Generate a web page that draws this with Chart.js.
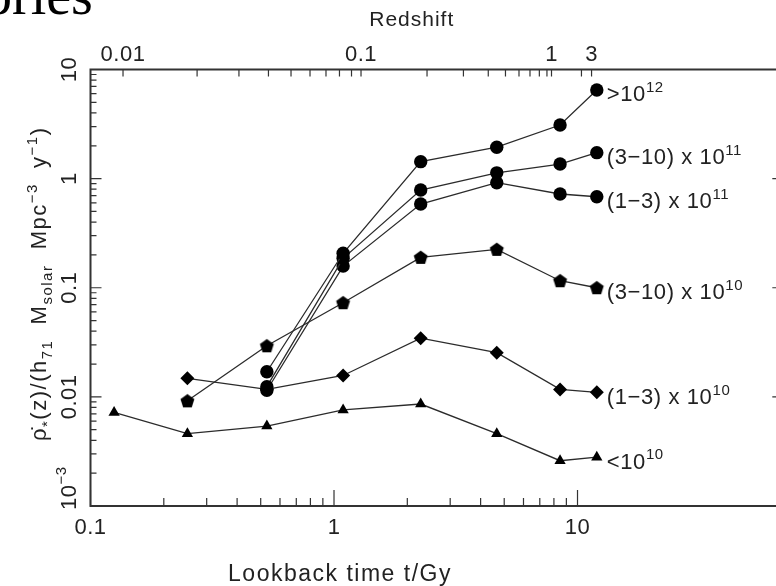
<!DOCTYPE html>
<html>
<head>
<meta charset="utf-8">
<script src="https://cdn.jsdelivr.net/npm/chart.js@4.4.1/dist/chart.umd.min.js"></script>
<style>
  html, body { margin: 0; padding: 0; background: #fff; overflow: hidden; }
  #wrap { position: relative; width: 776px; height: 586px; overflow: hidden; }
  #wrap canvas { position: absolute; left: 0; top: 0; }
  #frag { position: absolute; left: -16px; top: -33px; font-family: "Liberation Serif"; font-size: 56px; line-height: 56px; color: #000; white-space: nowrap; }
</style>
</head>
<body>
<div id="wrap">
  <canvas id="sfr" width="800" height="586"></canvas>
  <div id="frag">ories</div>
</div>
<script>
// lookback time of each bin (Gy)
const lookbackGy = [0.125, 0.25, 0.53, 1.09, 2.27, 4.66, 8.48, 12.0];

// star formation rate density per mass bin (null = no point)
const sfrGt1e12   = [null, null, 0.017, 0.207, 1.43, 1.94, 3.10, 6.49];
const sfr3to10e11 = [null, null, 0.0124, 0.186, 0.786, 1.13, 1.36, 1.73];
const sfr1to3e11  = [null, null, 0.0115, 0.158, 0.585, 0.917, 0.723, 0.682];
const sfr3to10e10 = [null, 0.0092, 0.0294, 0.0729, 0.190, 0.225, 0.116, 0.100];
const sfr1to3e10  = [null, 0.0148, 0.0117, 0.0157, 0.0345, 0.0254, 0.0117, 0.0110];
const sfrLt1e10   = [0.0072, 0.0046, 0.0054, 0.0076, 0.0086, 0.0046, 0.0026, 0.0028];

const massLabels = ['>10^{12}', '(3\u221210) x 10^{11}', '(1\u22123) x 10^{11}',
                    '(3\u221210) x 10^{10}', '(1\u22123) x 10^{10}', '<10^{10}'];

// axis ticks
const timeTicks = [0.1, 1, 10];
const timeTickLabels = ['0.1', '1', '10'];
const rateTicks = [10, 1, 0.1, 0.01, 0.001];
const rateTickLabels = ['10', '1', '0.1', '0.01', '10^{\u22123}'];
const redshiftTicks = [0.01, 0.02, 0.03, 0.04, 0.05, 0.06, 0.07, 0.08, 0.09, 0.1,
                       0.2, 0.3, 0.4, 0.5, 0.6, 0.7, 0.8, 0.9, 1, 2, 3];
const redshiftTickGy = [0.136, 0.274, 0.407, 0.538, 0.666, 0.797, 0.927, 1.053, 1.180, 1.291,
                        2.41, 3.40, 4.30, 5.06, 5.75, 6.38, 6.97, 7.49, 7.82, 10.38, 11.42];
const redshiftLabelled = ['0.01', '0.1', '1', '3'];

const INK = '#222';
const FONT = '"Liberation Sans", Arial, sans-serif';
const SUP = 0.7;

function pentagon(r) {
  const c = document.createElement('canvas');
  const s = Math.ceil(r * 2 + 2);
  c.width = c.height = s;
  const g = c.getContext('2d');
  g.beginPath();
  for (let i = 0; i < 5; i++) {
    const a = -Math.PI / 2 + i * 2 * Math.PI / 5;
    g.lineTo(s / 2 + r * Math.cos(a), s / 2 + 0.5 + r * Math.sin(a));
  }
  g.closePath();
  g.fillStyle = '#000';
  g.fill();
  return c;
}

function series(values, style, radius) {
  const pts = [];
  values.forEach((v, i) => { if (v !== null) pts.push({ x: lookbackGy[i], y: v }); });
  return {
    data: pts,
    showLine: true,
    borderColor: '#2b2b2b',
    borderWidth: 1.3,
    pointStyle: style,
    pointRadius: radius,
    pointBackgroundColor: '#000',
    pointBorderColor: '#000',
    pointBorderWidth: 0,
    clip: false
  };
}

// text with ^{sup} and _{sub}
function richParts(str) {
  const out = [];
  const re = /([\^_])\{([^}]*)\}/g;
  let last = 0, m;
  while ((m = re.exec(str))) {
    if (m.index > last) out.push({ t: str.slice(last, m.index), k: '' });
    out.push({ t: m[2], k: m[1] });
    last = re.lastIndex;
  }
  if (last < str.length) out.push({ t: str.slice(last), k: '' });
  return out;
}
function richWidth(ctx, str, size) {
  let w = 0;
  richParts(str).forEach(p => {
    ctx.font = (p.k ? Math.round(size * SUP) : size) + 'px ' + FONT;
    w += ctx.measureText(p.t).width;
  });
  return w;
}
function drawRich(ctx, str, x, y, size, align) {
  const w = richWidth(ctx, str, size);
  let cx = align === 'center' ? x - w / 2 : (align === 'right' ? x - w : x);
  ctx.textAlign = 'left';
  ctx.textBaseline = 'alphabetic';
  richParts(str).forEach(p => {
    ctx.font = (p.k ? Math.round(size * SUP) : size) + 'px ' + FONT;
    const dy = p.k === '^' ? -size * 0.42 : (p.k === '_' ? size * 0.25 : 0);
    ctx.fillText(p.t, cx, y + dy);
    cx += ctx.measureText(p.t).width;
  });
}

const axesPlugin = {
  id: 'pgAxes',
  afterDraw(chart) {
    const ctx = chart.ctx;
    const a = chart.chartArea;
    const xs = chart.scales.x, xt = chart.scales.xTop, ys = chart.scales.y;
    ctx.save();
    ctx.strokeStyle = '#333';
    ctx.fillStyle = INK;

    // frame
    ctx.lineWidth = 2;
    ctx.strokeRect(a.left, a.top, a.right - a.left, a.bottom - a.top);

    ctx.lineWidth = 1.2;
    ctx.beginPath();
    // left / right ticks
    for (let e = -3; e <= 1; e++) {
      for (let k = 1; k <= 9; k++) {
        const v = k * Math.pow(10, e);
        if (v > 10.0001) continue;
        const py = ys.getPixelForValue(v);
        const len = k === 1 ? 11 : 6;
        ctx.moveTo(a.left, py); ctx.lineTo(a.left + len, py);
        ctx.moveTo(a.right, py); ctx.lineTo(a.right - len, py);
      }
    }
    // bottom ticks (up to 10 Gy)
    for (let e = -1; e <= 1; e++) {
      for (let k = 1; k <= 9; k++) {
        const v = k * Math.pow(10, e);
        if (v > 10.0001) continue;
        const px = xs.getPixelForValue(v);
        const len = k === 1 ? 16 : 8;
        ctx.moveTo(px, a.bottom); ctx.lineTo(px, a.bottom - len);
      }
    }
    // top redshift ticks
    redshiftTickGy.forEach(t => {
      const px = xt.getPixelForValue(t);
      ctx.moveTo(px, a.top); ctx.lineTo(px, a.top + 7);
    });
    ctx.stroke();

    // tick labels
    ctx.letterSpacing = '0.5px';
    timeTicks.forEach((t, i) => drawRich(ctx, timeTickLabels[i], xs.getPixelForValue(t), a.bottom + 28, 22, 'center'));
    redshiftTicks.forEach((z, i) => {
      if (redshiftLabelled.includes(String(z))) {
        drawRich(ctx, String(z), xt.getPixelForValue(redshiftTickGy[i]), a.top - 9, 22, 'center');
      }
    });
    rateTicks.forEach((v, i) => {
      const py = ys.getPixelForValue(v);
      const w = richWidth(ctx, rateTickLabels[i], 22);
      let u = -w / 2;
      const below = (py + w / 2) - (a.bottom + 4);
      if (below > 0) u += below;
      ctx.save();
      ctx.translate(a.left - 15, py);
      ctx.rotate(-Math.PI / 2);
      drawRich(ctx, rateTickLabels[i], u, 0, 22, 'left');
      ctx.restore();
    });

    // axis titles
    ctx.letterSpacing = '1px';
    drawRich(ctx, 'Redshift', (a.left + 733) / 2, 26, 21, 'center');
    ctx.letterSpacing = '1.5px';
    drawRich(ctx, 'Lookback time t/Gy', xs.getPixelForValue(1) + 6, 581, 23, 'center');
    ctx.save();
    ctx.translate(46, (a.top + a.bottom) / 2 - 4);
    ctx.rotate(-Math.PI / 2);
    drawRich(ctx, '\u03c1\u0307_{*}(z)/(h_{71}  M_{solar}  Mpc^{\u22123}  y^{\u22121})', 0, 0, 22, 'center');
    ctx.restore();

    // mass bin labels at the end of each curve
    ctx.letterSpacing = '0.6px';
    chart.data.datasets.forEach((ds, i) => {
      const last = ds.data[ds.data.length - 1];
      const px = xs.getPixelForValue(last.x);
      const py = ys.getPixelForValue(last.y);
      drawRich(ctx, massLabels[i], px + 10, py + 11.5, 22, 'left');
    });
    ctx.letterSpacing = '0px';
    ctx.restore();
  }
};

const datasets = [
  series(sfrGt1e12, 'circle', 6.7),
  series(sfr3to10e11, 'circle', 6.7),
  series(sfr1to3e11, 'circle', 6.7),
  series(sfr3to10e10, pentagon(7.3), 7),
  series(sfr1to3e10, 'rectRot', 7),
  series(sfrLt1e10, 'triangle', 6.5)
];

new Chart(document.getElementById('sfr'), {
  type: 'scatter',
  data: { datasets: datasets },
  options: {
    responsive: false,
    animation: false,
    layout: { padding: { left: 90.5, top: 69.5, right: 16.7, bottom: 80 } },
    scales: {
      x: { type: 'logarithmic', min: 0.1, max: 70, display: false },
      xTop: { type: 'logarithmic', axis: 'x', position: 'top', min: 0.1, max: 70, display: false },
      y: { type: 'logarithmic', min: 0.001, max: 10, display: false }
    },
    plugins: { legend: { display: false }, tooltip: { enabled: false } }
  },
  plugins: [axesPlugin]
});
</script>
</body>
</html>
